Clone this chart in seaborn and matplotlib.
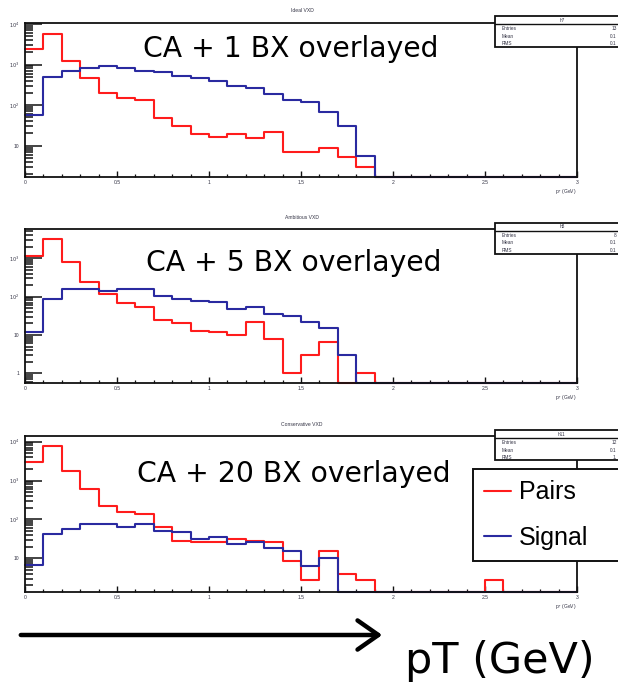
import numpy as np
import pandas as pd
import matplotlib
matplotlib.use("Agg")
import matplotlib.pyplot as plt
import seaborn as sns
from matplotlib.patches import Rectangle, FancyArrowPatch
from matplotlib.lines import Line2D
from matplotlib.ticker import LogLocator, FuncFormatter, MultipleLocator, NullFormatter

# ---- data: track pT spectra, 0.1 GeV bins from 0 to 3 GeV ----
bin_edges = np.round(np.linspace(0.0, 3.0, 31), 2)
bin_centers = 0.5 * (bin_edges[:-1] + bin_edges[1:])

panel_titles = ["Ideal VXD", "Ambitious VXD", "Conservative VXD"]
overlay_labels = ["CA + 1 BX overlayed", "CA + 5 BX overlayed", "CA + 20 BX overlayed"]
hist_names = ["h7", "h8", "h11"]
stat_entries = ["13", "8", "12"]
stat_means = ["0.1", "0.1", "0.1"]
stat_rms = ["0.1", "0.1", "1."]

pairs_ideal = [2370, 5600, 1220, 474, 202, 152, 134, 47, 31, 19.4,
               16.7, 19.8, 15.1, 21.7, 7.1, 7.1, 8.6, 5.4, 3.0, 0,
               0, 0, 0, 0, 0, 0, 0, 0, 0, 0]
signal_ideal = [57, 483, 706, 837, 920, 837, 706, 643, 532, 474,
                400, 301, 269, 188, 134, 117, 66, 31, 5.6, 0,
                0, 0, 0, 0, 0, 0, 0, 0, 0, 0]

pairs_ambitious = [1150, 3140, 790, 241, 117, 70, 53, 24, 21, 13,
                   12, 10, 22, 8, 1, 3, 6.4, 0, 1, 0,
                   0, 0, 0, 0, 0, 0, 0, 0, 0, 0]
signal_ambitious = [11.7, 87, 159, 159, 144, 159, 159, 106, 87, 79,
                    71, 48, 53, 35, 32, 21.4, 15.5, 3, 0, 0,
                    0, 0, 0, 0, 0, 0, 0, 0, 0, 0]

pairs_conservative = [2950, 7700, 1760, 590, 221, 152, 138, 63, 28.5, 25.8,
                      25.8, 31.4, 28.5, 25.8, 8.7, 2.7, 15.7, 3.9, 2.8, 0,
                      0, 0, 0, 0, 0, 2.8, 0, 0, 0, 0]
signal_conservative = [6.7, 42, 57, 76, 76, 63, 76, 51, 46.5, 31.4,
                       34.6, 23.3, 25.8, 18, 15.7, 6.3, 10, 0, 0, 0,
                       0, 0, 0, 0, 0, 0, 0, 0, 0, 0]

pairs_sets = [pairs_ideal, pairs_ambitious, pairs_conservative]
signal_sets = [signal_ideal, signal_ambitious, signal_conservative]
y_ranges = [(1.69, 10570), (0.56, 5800), (1.36, 14000)]

# ---- styling ----
W, H = 618, 684
RED = "#ff1c1c"
BLUE = "#2a2aa0"
sns.set_theme(style="white")
plt.rcParams["font.family"] = ["DejaVu Sans"]
plt.rcParams["axes.edgecolor"] = "#111111"
plt.rcParams["axes.linewidth"] = 1.3

fig = plt.figure(figsize=(W / 100, H / 100), dpi=100)
fig.patch.set_facecolor("white")


def fx(x):
    return x / W


def fy(y):
    return 1 - y / H


# axes boxes in pixels: (left, top, right, bottom)
boxes = [(25, 23, 577, 177), (25, 229, 577, 383), (25, 436, 577, 592)]
title_y = [11, 218, 425]
overlay_pos = [(143, 57), (146, 271), (137, 482)]
stat_boxes = [(495, 16, 47), (495, 223, 254), (495, 430, 460)]


def decade_label(v, pos):
    e = int(round(np.log10(v)))
    if e == 0:
        return "1"
    if e == 1:
        return "10"
    return r"$10^{%d}$" % e


tiny = dict(family="Liberation Sans", color="#333344")
edge_list = bin_edges.tolist()

axes = []
for i in range(3):
    l, t, r, b = boxes[i]
    ax = fig.add_axes([fx(l), fy(b), (r - l) / W, (b - t) / H])
    axes.append(ax)
    lo, hi = y_ranges[i]
    # zero bins sit on the floor of the log axis, as in a ROOT log plot
    pairs = np.asarray(pairs_sets[i], dtype=float)
    signal = np.asarray(signal_sets[i], dtype=float)
    df = pd.DataFrame({
        "pt": bin_centers,
        "pairs": np.where(pairs > 0, pairs, lo),
        "signal": np.where(signal > 0, signal, lo),
    })
    sns.histplot(data=df, x="pt", weights="pairs", bins=edge_list, element="step",
                 fill=False, color=RED, linewidth=1.5, ax=ax, clip_on=False)
    sns.histplot(data=df, x="pt", weights="signal", bins=edge_list, element="step",
                 fill=False, color=BLUE, linewidth=1.5, ax=ax, clip_on=False)
    ax.set_yscale("log")
    ax.set_xlim(0, 3)
    ax.set_ylim(lo, hi)
    ax.set_ylabel("")
    ax.set_xlabel(r"p$_{T}$ (GeV)", loc="right", fontsize=3.6, labelpad=1.5, **tiny)
    ax.yaxis.set_major_locator(LogLocator(base=10, numticks=10))
    ax.yaxis.set_minor_locator(LogLocator(base=10, subs=np.arange(2, 10), numticks=20))
    ax.yaxis.set_major_formatter(FuncFormatter(decade_label))
    ax.yaxis.set_minor_formatter(NullFormatter())
    ax.xaxis.set_major_locator(MultipleLocator(0.5))
    ax.xaxis.set_minor_locator(MultipleLocator(0.1))
    ax.xaxis.set_major_formatter(FuncFormatter(lambda v, p: "%g" % v))
    ax.tick_params(axis="y", which="major", direction="in", length=12, width=1.1,
                   labelsize=3.6, pad=4, left=True, right=False, colors="#111111",
                   labelcolor="#333344")
    ax.tick_params(axis="y", which="minor", direction="in", length=6, width=1.1,
                   left=True, right=False, colors="#111111")
    ax.tick_params(axis="x", which="major", direction="in", length=4, width=1.0,
                   labelsize=3.6, pad=2, bottom=True, top=False, colors="#111111",
                   labelcolor="#333344")
    ax.tick_params(axis="x", which="minor", direction="in", length=2.2, width=0.9,
                   bottom=True, top=False, colors="#111111")
    for lab in ax.get_xticklabels() + ax.get_yticklabels():
        lab.set_family("Liberation Sans")
    for sp in ax.spines.values():
        sp.set_visible(True)
        sp.set_linewidth(1.3)
        sp.set_color("#111111")

    # histogram title
    fig.text(fx(302), fy(title_y[i]), panel_titles[i], ha="center", va="center",
             fontsize=3.6, **tiny)

    # ROOT statistics box
    sx, st, sb = stat_boxes[i]
    fig.add_artist(Rectangle((fx(sx), fy(sb)), 0.3, (sb - st) / H,
                             transform=fig.transFigure, facecolor="white",
                             edgecolor="#111111", linewidth=1.3, zorder=5))
    fig.add_artist(Line2D([fx(sx), 1.0], [fy(st + 8), fy(st + 8)],
                          transform=fig.transFigure, color="#111111", lw=1.0, zorder=6))
    fig.text(fx(562), fy(st + 4), hist_names[i], ha="center", va="center",
             fontsize=3.4, zorder=7, **tiny)
    rows = [("Entries", stat_entries[i]), ("Mean", stat_means[i]), ("RMS", stat_rms[i])]
    for k, (name, val) in enumerate(rows):
        yy = st + 12.5 + k * 7.5
        fig.text(fx(502), fy(yy), name, ha="left", va="center", fontsize=3.4,
                 zorder=7, **tiny)
        fig.text(fx(617), fy(yy), val, ha="right", va="center", fontsize=3.4,
                 zorder=7, **tiny)

    # overlay annotation
    ox, oy = overlay_pos[i]
    fig.text(fx(ox), fy(oy), overlay_labels[i], ha="left", va="baseline",
             fontsize=20.3, color="black", family="DejaVu Sans", zorder=8)

# legend in the bottom panel
handles = [Line2D([], [], color=RED, lw=1.5), Line2D([], [], color=BLUE, lw=1.5)]
leg = axes[2].legend(handles, ["Pairs", "Signal"], loc="upper left",
                     bbox_to_anchor=(fx(473), fy(559), 0.3, 90 / H),
                     bbox_transform=fig.transFigure, mode="expand", borderaxespad=0,
                     frameon=True, fancybox=False, shadow=False, framealpha=1,
                     edgecolor="#111111", handlelength=1.08, handletextpad=0.3,
                     borderpad=0.45, labelspacing=0.85, labelcolor="black",
                     prop={"family": ["Liberation Sans", "DejaVu Sans"], "size": 18})
leg.get_frame().set_linewidth(1.4)

# axis arrow and label underneath
fig.add_artist(FancyArrowPatch((fx(18), fy(635)), (fx(385), fy(635)),
                               transform=fig.transFigure,
                               arrowstyle="->,head_length=0.5,head_width=0.35",
                               mutation_scale=30, lw=3.2, color="black"))
fig.text(fx(405), fy(673), "pT (GeV)", ha="left", va="baseline", fontsize=31,
         color="black", family="DejaVu Sans")

fig.savefig("out.png", dpi=100, facecolor="white")
